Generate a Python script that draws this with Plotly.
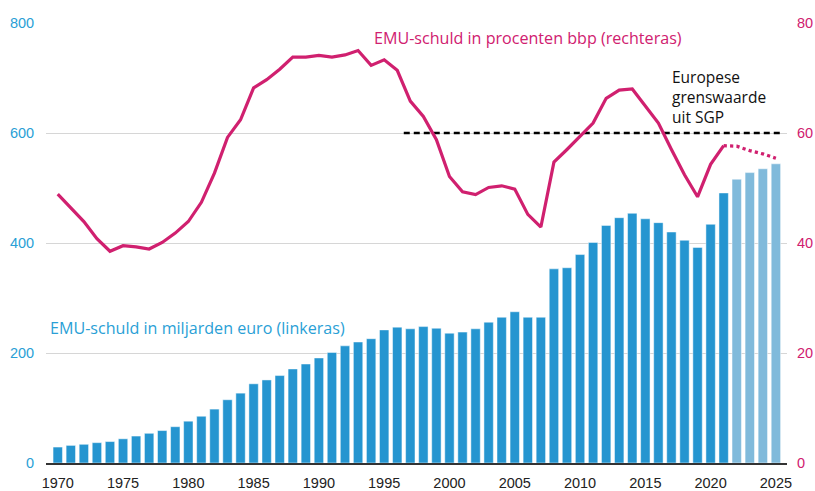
import plotly.graph_objects as go

years = list(range(1970, 2026))
debt_bn = [29, 32, 34, 37, 39, 44, 49, 54, 59, 66, 76, 85, 98, 115, 127, 144, 151, 159, 171, 180,
           191, 201, 213, 220, 226, 242, 247, 244, 248, 245, 236, 238, 244, 256, 265, 275, 265, 265,
           353, 355, 379, 401, 432, 446, 454, 444, 437, 420, 405, 392, 434, 491, 516, 528, 535, 544]
realised_until = 2021

debt_pct_years = list(range(1970, 2022))
debt_pct = [48.9, 46.5, 43.9, 40.8, 38.5, 39.5, 39.3, 38.9, 40.1, 41.8, 43.9, 47.4, 52.7, 59.2, 62.4,
            68.2, 69.7, 71.6, 73.8, 73.8, 74.1, 73.8, 74.2, 75.0, 72.3, 73.3, 71.4, 65.8, 63.0, 58.8,
            52.1, 49.3, 48.8, 50.1, 50.4, 49.8, 45.2, 42.9, 54.7, 57.0, 59.4, 61.8, 66.3, 67.8, 68.0,
            64.9, 61.8, 57.0, 52.4, 48.4, 54.3, 57.7]
forecast_years = [2021, 2022, 2023, 2024, 2025]
forecast_pct = [57.7, 57.6, 56.8, 56.2, 55.4]

sgp_limit = 60
sgp_span = [1996.5, 2025.35]

BLUE = "#2595d0"
LIGHT = "#80badb"
PINK = "#d0206f"
LBLUE_TXT = "#2a9fd6"
FONT = "Liberation Sans"
ANN_FONT = "Open Sans"
NOTICK = "rgba(0,0,0,0)"

bar_colors = [BLUE if y <= realised_until else LIGHT for y in years]

fig = go.Figure()
fig.add_trace(go.Bar(x=years, y=debt_bn,
                     marker=dict(color=bar_colors, line=dict(color="rgba(255,255,255,0.6)", width=0.8)),
                     width=0.72, yaxis="y"))
fig.add_trace(go.Scatter(x=sgp_span, y=[sgp_limit, sgp_limit], mode="lines",
                         line=dict(color="black", width=2.4, dash="6px,4px"), yaxis="y2"))
fig.add_trace(go.Scatter(x=debt_pct_years, y=debt_pct, mode="lines",
                         line=dict(color=PINK, width=3.2), yaxis="y2"))
fig.add_trace(go.Scatter(x=forecast_years, y=forecast_pct, mode="lines",
                         line=dict(color=PINK, width=3.2, dash="dot"), yaxis="y2"))

fig.update_layout(
    width=815, height=491,
    margin=dict(l=46, r=28, t=23, b=28, autoexpand=False),
    plot_bgcolor="white", paper_bgcolor="white",
    showlegend=False,
    font=dict(family=FONT, size=14, color="#222"),
    xaxis=dict(range=[1969.1, 2025.85], tickvals=list(range(1970, 2026, 5)),
               showgrid=False, showline=True, linecolor="#333", linewidth=1.5,
               ticks="outside", ticklen=6, tickcolor=NOTICK, tickfont=dict(size=14.5, color="#222"),
               zeroline=False, automargin=False),
    yaxis=dict(range=[0, 800], tickvals=[0, 200, 400, 600, 800], showgrid=True,
               gridcolor="#d6d6d6", gridwidth=1.2, zeroline=False,
               tickfont=dict(size=14.5, color=LBLUE_TXT), ticks="outside", ticklen=8,
               tickcolor=NOTICK, automargin=False),
    yaxis2=dict(range=[0, 80], tickvals=[0, 20, 40, 60, 80], overlaying="y", side="right",
                showgrid=False, zeroline=False, tickfont=dict(size=14.5, color=PINK),
                ticks="outside", ticklen=6, tickcolor=NOTICK, automargin=False),
)

fig.add_annotation(x=1994.1, y=77.3, xref="x", yref="y2", text="EMU-schuld in procenten bbp (rechteras)",
                   showarrow=False, xanchor="left", yanchor="middle",
                   font=dict(family=ANN_FONT, color=PINK, size=16.1))
fig.add_annotation(x=2016.9, y=66.5, xref="x", yref="y2",
                   text="Europese<br>grenswaarde<br>uit SGP", align="left",
                   showarrow=False, xanchor="left", yanchor="middle",
                   font=dict(family=ANN_FONT, color="#111", size=15.5))
fig.add_annotation(x=1969.25, y=245, xref="x", yref="y", text="EMU-schuld in miljarden euro (linkeras)",
                   showarrow=False, xanchor="left", yanchor="middle",
                   font=dict(family=ANN_FONT, color=LBLUE_TXT, size=16.1))

fig.write_html("out.html", config={"displayModeBar": False},
               post_script="document.body.style.margin='0';document.body.style.padding='0';")
